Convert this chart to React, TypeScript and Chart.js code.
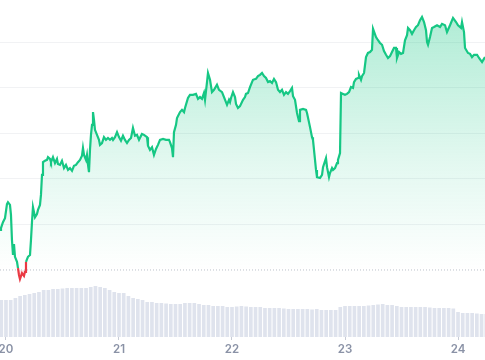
import React, { useEffect, useRef } from 'react';
import { Chart, registerables } from 'chart.js';

Chart.register(...registerables);

// ---- axis / category data ----
const DAY_LABELS = ['20', '21', '22', '23', '24'];
const DAY_TICKS = [0, 24, 48, 72, 96]; // hours since 20th 00:00
const X_MIN = -1.27;
const X_MAX = 101.73;

const BASELINE = 100; // reference (dotted) price level
const GRID_LEVELS = [101, 102, 103, 104, 105];
const Y_MIN = 98.527;
const Y_MAX = 105.934;

// ---- price series (time in hours, price index) ----
const PRICE_TIMES = [
  -1.27, -1.06, -0.64, -0.21, 0.21, 0.42, 0.85, 1.06, 1.27, 1.49, 1.7, 1.91, 2.34, 2.55, 2.76, 2.97, 3.4, 3.82, 4.04, 4.25,
  4.67, 5.1, 5.31, 5.52, 5.73, 5.95, 6.16, 6.58, 6.8, 7.22, 7.43, 7.65, 7.86, 8.28,
  8.71, 8.92, 9.35, 9.56, 9.98, 10.41, 10.83, 11.04, 11.47, 11.89, 12.32, 12.74, 13.17, 13.59, 14.02, 14.44, 14.87, 15.29,
  15.72, 16.14, 16.35, 16.57, 16.99, 17.2, 17.42, 17.63, 17.84, 18.05, 18.27, 18.48, 18.69, 18.9, 19.33, 19.75, 19.96,
  20.39, 20.81, 21.24, 21.66,
  22.09, 22.51, 22.73, 23.15, 23.58, 24.0, 24.42, 24.85, 25.27, 25.7, 26.12, 26.55, 26.97, 27.4, 27.82, 28.25, 28.88,
  29.31, 29.95, 30.16, 30.58, 31.01, 31.43, 31.86, 32.28, 32.71, 33.35, 33.98, 34.62, 34.83, 35.26, 35.47, 35.68, 36.11,
  36.32, 36.96, 37.38, 37.81, 38.02, 38.65, 39.08, 39.72, 40.35, 40.78, 41.2, 41.63, 42.05, 42.27, 42.69, 42.9, 43.33,
  43.75, 44.18, 44.81, 45.24, 45.88, 46.3, 46.94, 47.36,
  47.58, 47.79, 48.21, 48.64, 48.85, 49.27, 49.7, 50.34, 50.76, 50.97, 51.4, 51.82, 52.25, 52.46, 53.1, 53.52, 53.95,
  54.37, 54.8, 55.22, 55.65, 56.07, 56.5, 56.92, 57.35, 57.77, 58.19, 58.62, 59.04, 59.47, 59.89, 60.32, 60.74, 60.96,
  61.38, 61.81, 62.23, 62.44, 63.08, 63.72, 63.93, 64.57, 64.99, 65.2, 65.63, 65.84, 66.05, 66.69, 67.12, 67.33, 67.96,
  68.18, 68.6, 68.81, 69.24, 69.45, 69.88, 70.3, 70.51, 70.94, 71.15,
  71.58, 72.0, 72.42, 72.85, 73.27, 73.7, 73.91, 74.34, 74.76, 74.97, 75.4, 75.61, 76.04, 76.46, 76.88, 77.31, 77.73,
  77.95, 78.58, 79.01, 79.43, 79.86, 80.28, 80.71, 81.13, 81.56, 81.98, 82.41, 82.83, 83.04, 83.47, 83.89, 84.32, 84.74,
  85.17, 85.38, 85.81, 86.23, 86.65, 87.08, 87.5, 87.93, 88.35, 88.78, 89.2, 89.42, 89.63, 90.05, 90.48, 90.9, 91.54,
  92.18, 92.6, 93.24, 93.66, 94.3, 94.94, 95.58, 96.0, 96.64, 96.85, 97.27, 97.49, 98.12, 98.55, 98.97, 99.4, 100.04,
  100.46, 101.1, 101.73,
];

const PRICES = [
  100.88, 100.92, 101.05, 101.14, 101.45, 101.49, 101.43, 101.21, 100.66, 100.33, 100.57, 100.29, 100.18, 100.04, 99.89,
  99.8, 99.93, 99.87, 99.96, 100.18,
  100.29, 100.33, 100.66, 101.05, 101.38, 101.27, 101.16, 101.23, 101.32, 101.43, 101.65, 102.09, 102.37, 102.4,
  102.42, 102.48, 102.44, 102.37, 102.48, 102.35, 102.44, 102.33, 102.31, 102.4, 102.24, 102.31, 102.2, 102.24, 102.18,
  102.29, 102.31, 102.37,
  102.42, 102.51, 102.68, 102.53, 102.42, 102.53, 102.31, 102.15, 102.64, 102.97, 103.19, 103.47, 103.3, 103.08, 102.97,
  102.86, 102.75,
  102.79, 102.92, 102.86, 102.9,
  102.86, 102.9, 102.86, 102.92, 103.03, 102.92, 102.84, 102.95, 102.86, 102.79, 102.86, 102.9, 103.12, 102.95, 102.97,
  102.86, 102.99,
  102.97, 102.92, 102.73, 102.64, 102.7, 102.53, 102.66, 102.75, 102.86, 102.88, 102.86, 102.86, 102.81, 102.68, 102.48,
  103.03, 103.19,
  103.34, 103.47, 103.52, 103.47, 103.56, 103.78, 103.85, 103.85, 103.87, 103.76, 103.8, 103.76, 103.89, 103.74, 104.13,
  104.33, 104.18,
  103.91, 103.96, 104.07, 103.96, 103.91, 103.8, 103.63, 103.74,
  103.69, 103.78, 103.91, 103.8, 103.65, 103.56, 103.6, 103.74, 103.8, 103.87, 103.89, 104.02, 104.13, 104.18, 104.2,
  104.26, 104.29,
  104.33, 104.26, 104.22, 104.13, 104.15, 104.11, 104.2, 104.13, 103.96, 103.91, 103.96, 103.85, 103.91, 103.87, 103.93,
  104.0, 103.82,
  103.74, 103.45, 103.27, 103.52, 103.54, 103.52, 103.45, 103.14, 102.92, 102.86, 102.42, 102.2, 102.04, 102.02, 102.09,
  102.26, 102.46,
  102.26, 102.04, 102.13, 102.24, 102.2, 102.24, 102.35, 102.42, 102.57, 103.89,
  103.87, 103.85, 103.87, 103.91, 104.02, 104.0, 104.13, 104.2, 104.22, 104.29, 104.18, 104.26, 104.33, 104.68, 104.77,
  104.79, 104.84,
  105.3, 105.12, 105.05, 104.99, 104.95, 104.81, 104.73, 104.66, 104.7, 104.79, 104.88, 104.88, 104.66, 104.79, 104.75,
  104.77, 105.05,
  105.16, 105.32, 105.27, 105.19, 105.27, 105.34, 105.38, 105.49, 105.56, 105.45, 105.27, 105.01, 104.95, 105.12, 105.32,
  105.34, 105.38,
  105.34, 105.41, 105.38, 105.23, 105.38, 105.54, 105.45, 105.38, 105.32, 105.45, 105.23, 104.88, 104.77, 104.75, 104.68,
  104.73, 104.73,
  104.66, 104.57, 104.68,
];

// ---- hourly volume (first bucket at hour -1) ----
const VOLUME_START_HOUR = -1;
const VOLUMES = [
  370, 370, 370, 390, 410, 420, 430, 440, 450, 470, 470, 480, 480, 485, 490, 490, 490, 490, 490, 500,
  510, 500, 490, 470, 450, 440, 440, 410, 390, 380, 370, 350, 350, 340, 340, 335, 330, 330, 330, 340,
  340, 340, 330, 320, 320, 310, 310, 310, 300, 300, 305, 310, 305, 300, 300, 300, 290, 290, 290, 290,
  285, 280, 280, 280, 280, 280, 275, 280, 270, 270, 270, 270, 300, 310, 310, 310, 310, 310, 315, 320,
  325, 330, 320, 320, 310, 300, 300, 300, 300, 300, 300, 295, 290, 290, 290, 290, 285, 250, 240, 240,
  240, 235, 230, 230,
];
const VOLUME_AXIS_MAX = 3370;

const GREEN = 'rgb(22, 199, 132)';
const RED = 'rgb(234, 57, 67)';
const LABEL_COLOR = '#8a92a6';

// draws the day labels under the tick marks without reserving side padding
const dayLabelPlugin = {
  id: 'dayLabels',
  afterDraw(chart: any) {
    const xs = chart.scales.x;
    const c = chart.ctx;
    c.save();
    c.fillStyle = LABEL_COLOR;
    c.font = '600 11.5px Inter, "Noto Sans", sans-serif';
    c.textAlign = 'center';
    c.textBaseline = 'middle';
    const y = chart.chartArea.bottom + 13;
    DAY_TICKS.forEach((v, i) => {
      c.fillText(DAY_LABELS[i], xs.getPixelForValue(v), y);
    });
    c.restore();
  },
};

export default function App() {
  const canvasRef = useRef<HTMLCanvasElement | null>(null);

  useEffect(() => {
    const canvas = canvasRef.current;
    if (!canvas) return;

    const pricePoints = PRICE_TIMES.map((t, i) => ({ x: t, y: PRICES[i] }));
    const volumePoints = VOLUMES.map((v, i) => ({ x: VOLUME_START_HOUR + i, y: v }));

    const chart = new Chart(canvas, {
      type: 'line',
      data: {
        datasets: [
          {
            type: 'line',
            data: pricePoints,
            yAxisID: 'y',
            borderColor: GREEN,
            borderWidth: 2.2,
            pointRadius: 0,
            tension: 0,
            segment: {
              borderColor: (ctx: any) =>
                ctx.p0.parsed.y < BASELINE || ctx.p1.parsed.y < BASELINE ? RED : GREEN,
            },
            backgroundColor: (ctx: any) => {
              const chart = ctx.chart;
              const area = chart.chartArea;
              if (!area) return 'rgba(22,199,132,0.2)';
              const yScale = chart.scales.y;
              const bottom = yScale.getPixelForValue(BASELINE);
              const g = chart.ctx.createLinearGradient(0, area.top, 0, bottom);
              g.addColorStop(0, 'rgba(22,199,132,0.36)');
              g.addColorStop(0.6, 'rgba(22,199,132,0.12)');
              g.addColorStop(1, 'rgba(22,199,132,0.0)');
              return g;
            },
            fill: { target: { value: BASELINE }, below: 'rgba(234,57,67,0.12)' },
            order: 1,
          },
          {
            type: 'line',
            data: [
              { x: X_MIN, y: BASELINE },
              { x: X_MAX, y: BASELINE },
            ],
            yAxisID: 'y',
            borderColor: '#bcc1ca',
            borderWidth: 1,
            borderDash: [1, 2],
            pointRadius: 0,
            fill: false,
            order: 2,
          },
          {
            type: 'bar',
            data: volumePoints,
            yAxisID: 'yv',
            backgroundColor: '#dfe3ed',
            borderWidth: 0,
            barPercentage: 0.78,
            categoryPercentage: 1,
            order: 3,
          },
        ],
      } as any,
      options: {
        animation: false,
        responsive: false,
        maintainAspectRatio: false,
        layout: { padding: { left: 0, right: 0, top: 0, bottom: 20 } },
        plugins: {
          legend: { display: false },
          tooltip: { enabled: false },
        },
        scales: {
          x: {
            type: 'linear',
            min: X_MIN,
            max: X_MAX,
            offset: false,
            afterBuildTicks: (axis: any) => {
              axis.ticks = DAY_TICKS.map((v) => ({ value: v }));
            },
            ticks: { display: false },
            grid: {
              offset: false,
              drawOnChartArea: false,
              drawTicks: true,
              tickLength: 3,
              color: '#c8ccd6',
            },
            border: { display: false },
          },
          y: {
            type: 'linear',
            position: 'left',
            min: Y_MIN,
            max: Y_MAX,
            afterBuildTicks: (axis: any) => {
              axis.ticks = GRID_LEVELS.map((v) => ({ value: v }));
            },
            ticks: { display: false },
            grid: { color: '#f1f2f4', drawTicks: false, lineWidth: 1 },
            border: { display: false },
          },
          yv: {
            type: 'linear',
            display: false,
            min: 0,
            max: VOLUME_AXIS_MAX,
          },
        },
      } as any,
      plugins: [dayLabelPlugin],
    });

    return () => chart.destroy();
  }, []);

  return (
    <div style={{ position: 'fixed', left: 0, top: 0, width: 485, height: 360, background: '#ffffff' }}>
      <canvas ref={canvasRef} width={485} height={360} style={{ display: 'block', width: 485, height: 360 }} />
    </div>
  );
}
